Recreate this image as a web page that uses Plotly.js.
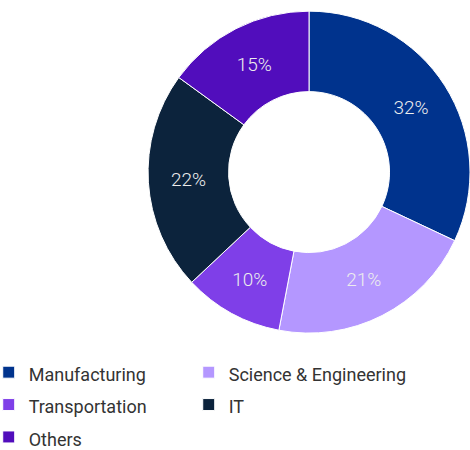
<!DOCTYPE html>
<html>
<head>
<meta charset="utf-8">
<script src="https://cdn.plot.ly/plotly-3.0.1.min.js"></script>
<style>html,body{margin:0;padding:0;background:#fff;}#chart{width:470px;height:450px;}</style>
</head>
<body>
<div id="chart"></div>
<script>
const categories = ["Manufacturing", "Science & Engineering", "Transportation", "IT", "Others"];
const shares = [32, 21, 10, 22, 15];
const colors = ["#00338D", "#B497FF", "#7F3FE8", "#0C233C", "#510DBC"];

const legendLabels = categories.map(c => '<span style="font-size:18px">' + c.replace('&', '&amp;') + '</span>');
const spacer = '<span style="font-size:40px">' + '&nbsp;'.repeat(50) + '</span>';

const trace = {
  type: "pie",
  labels: legendLabels,
  values: shares,
  hole: 0.5,
  sort: false,
  direction: "clockwise",
  rotation: 0,
  marker: {colors: colors, line: {color: "#ffffff", width: 1}},
  texttemplate: "%{value}%",
  textposition: "inside",
  insidetextorientation: "horizontal",
  insidetextfont: {family: "Roboto, Liberation Sans, sans-serif", size: 19, weight: 300, color: "#EDEDED"},
  domain: {x: [0.315, 1], y: [0.0176, 0.97]},
  hoverinfo: "none"
};

const layout = {
  width: 470,
  height: 450,
  margin: {l: 0, r: 0, t: 0, b: 110, autoexpand: false},
  paper_bgcolor: "#ffffff",
  showlegend: true,
  legend: {
    orientation: "h",
    x: -0.024,
    xanchor: "left",
    y: -0.0285,
    yanchor: "top",
    entrywidth: 155,
    entrywidthmode: "pixels",
    traceorder: "normal",
    font: {family: "Roboto, Liberation Sans, sans-serif", size: 22.6, color: "#333333"},
    title: {
      text: spacer,
      side: "top",
      font: {size: 1, color: "rgba(0,0,0,0)"}
    }
  }
};

Plotly.newPlot("chart", [trace], layout, {displayModeBar: false, staticPlot: true});
</script>
</body>
</html>
